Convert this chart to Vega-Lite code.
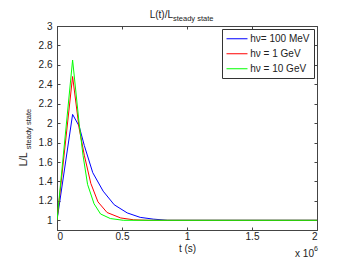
{
  "$schema": "https://vega.github.io/schema/vega-lite/v6.json",
  "width": 260,
  "height": 204,
  "autosize": {"type": "none"},
  "padding": {"left": 57, "top": 26, "right": 37, "bottom": 47},
  "config": {
    "font": "Liberation Sans",
    "view": {"stroke": "#444", "strokeWidth": 1},
    "text": {"font": "Liberation Sans", "color": "#222"}
  },
  "data": {
    "values": [
      {"series": "hν= 100 MeV", "t": 0, "L": 1},
      {"series": "hν= 100 MeV", "t": 120000, "L": 2.09},
      {"series": "hν= 100 MeV", "t": 170000, "L": 1.97},
      {"series": "hν= 100 MeV", "t": 210000, "L": 1.77},
      {"series": "hν= 100 MeV", "t": 275000, "L": 1.49},
      {"series": "hν= 100 MeV", "t": 355000, "L": 1.30},
      {"series": "hν= 100 MeV", "t": 440000, "L": 1.16},
      {"series": "hν= 100 MeV", "t": 540000, "L": 1.076},
      {"series": "hν= 100 MeV", "t": 640000, "L": 1.03},
      {"series": "hν= 100 MeV", "t": 740000, "L": 1.012},
      {"series": "hν= 100 MeV", "t": 850000, "L": 1.0},
      {"series": "hν= 100 MeV", "t": 2000000, "L": 1.0},
      {"series": "hν = 1 GeV", "t": 0, "L": 1},
      {"series": "hν = 1 GeV", "t": 120000, "L": 2.48},
      {"series": "hν = 1 GeV", "t": 170000, "L": 1.95},
      {"series": "hν = 1 GeV", "t": 210000, "L": 1.67},
      {"series": "hν = 1 GeV", "t": 260000, "L": 1.38},
      {"series": "hν = 1 GeV", "t": 315000, "L": 1.19},
      {"series": "hν = 1 GeV", "t": 385000, "L": 1.08},
      {"series": "hν = 1 GeV", "t": 490000, "L": 1.024},
      {"series": "hν = 1 GeV", "t": 590000, "L": 1.005},
      {"series": "hν = 1 GeV", "t": 700000, "L": 1.0},
      {"series": "hν = 1 GeV", "t": 2000000, "L": 1.0},
      {"series": "hν = 10 GeV", "t": 0, "L": 1},
      {"series": "hν = 10 GeV", "t": 120000, "L": 2.65},
      {"series": "hν = 10 GeV", "t": 170000, "L": 2.0},
      {"series": "hν = 10 GeV", "t": 200000, "L": 1.67},
      {"series": "hν = 10 GeV", "t": 235000, "L": 1.37},
      {"series": "hν = 10 GeV", "t": 285000, "L": 1.17},
      {"series": "hν = 10 GeV", "t": 335000, "L": 1.065},
      {"series": "hν = 10 GeV", "t": 410000, "L": 1.018},
      {"series": "hν = 10 GeV", "t": 510000, "L": 1.0},
      {"series": "hν = 10 GeV", "t": 2000000, "L": 1.0}
    ]
  },
  "layer": [
    {
      "mark": {"type": "line", "strokeWidth": 1, "clip": true},
      "encoding": {
        "x": {
          "field": "t", "type": "quantitative",
          "scale": {"domain": [0, 2000000], "nice": false, "zero": false},
          "axis": {
            "values": [0, 500000, 1000000, 1500000, 2000000],
            "labelExpr": "datum.value / 1000000",
            "title": "t (s)",
            "grid": false,
            "domainColor": "#444", "tickColor": "#444",
            "tickSize": -3, "labelPadding": 4,
            "labelFontSize": 10, "labelColor": "#222",
            "titleFontSize": 10, "titleFontWeight": "normal", "titleColor": "#222",
            "titlePadding": 2
          }
        },
        "y": {
          "field": "L", "type": "quantitative",
          "scale": {"domain": [0.9, 3], "nice": false, "zero": false},
          "axis": {
            "values": [1, 1.2, 1.4, 1.6, 1.8, 2, 2.2, 2.4, 2.6, 2.8, 3],
            "format": "~g",
            "title": null,
            "grid": false,
            "domainColor": "#444", "tickColor": "#444",
            "tickSize": -3, "labelPadding": 8,
            "labelFontSize": 10, "labelColor": "#222"
          }
        },
        "color": {
          "field": "series", "type": "nominal",
          "scale": {
            "domain": ["hν= 100 MeV", "hν = 1 GeV", "hν = 10 GeV"],
            "range": ["#0000ff", "#ff0000", "#00ff00"]
          },
          "legend": {
            "title": null,
            "orient": "top-right",
            "offset": 3,
            "padding": 3.75,
            "strokeColor": "#333",
            "fillColor": "#ffffff",
            "symbolType": "M-2,0H2",
            "symbolSize": 110,
            "symbolOffset": 5.25,
            "symbolStrokeWidth": 1,
            "labelFontSize": 10,
            "labelColor": "#222",
            "labelOffset": 7.25,
            "rowPadding": 4
          }
        }
      }
    },
    {
      "mark": {"type": "line", "opacity": 0},
      "encoding": {
        "x": {
          "field": "t", "type": "quantitative",
          "axis": {"orient": "top", "values": [0, 500000, 1000000, 1500000, 2000000], "labels": false, "title": null, "domain": false, "grid": false, "tickSize": -3, "tickColor": "#444"}
        },
        "y": {
          "field": "L", "type": "quantitative",
          "axis": {"orient": "right", "values": [1, 1.2, 1.4, 1.6, 1.8, 2, 2.2, 2.4, 2.6, 2.8, 3], "labels": false, "title": null, "domain": false, "grid": false, "tickSize": -3, "tickColor": "#444"}
        },
        "detail": {"field": "series"}
      }
    },
    {
      "data": {"values": [{"label": "x 10"}]},
      "mark": {"type": "text", "align": "right", "baseline": "alphabetic", "fontSize": 10, "dx": -3, "dy": 27},
      "encoding": {
        "x": {"datum": 2000000, "axis": null},
        "y": {"datum": 0.9, "axis": null},
        "text": {"field": "label"}
      }
    },
    {
      "data": {"values": [{"label": "6"}]},
      "mark": {"type": "text", "align": "left", "baseline": "alphabetic", "fontSize": 7, "dx": -3, "dy": 21},
      "encoding": {
        "x": {"datum": 2000000, "axis": null},
        "y": {"datum": 0.9, "axis": null},
        "text": {"field": "label"}
      }
    },
    {
      "data": {"values": [{"label": "L(t)/L"}]},
      "mark": {"type": "text", "align": "right", "baseline": "alphabetic", "fontSize": 10, "dx": -14, "dy": -8},
      "encoding": {
        "x": {"datum": 1000000, "axis": null},
        "y": {"datum": 3, "axis": null},
        "text": {"field": "label"}
      }
    },
    {
      "data": {"values": [{"label": "steady state"}]},
      "mark": {"type": "text", "align": "left", "baseline": "alphabetic", "fontSize": 7.5, "dx": -14, "dy": -5},
      "encoding": {
        "x": {"datum": 1000000, "axis": null},
        "y": {"datum": 3, "axis": null},
        "text": {"field": "label"}
      }
    },
    {
      "data": {"values": [{"label": "L/L"}]},
      "mark": {"type": "text", "align": "left", "baseline": "alphabetic", "fontSize": 10, "angle": 270, "dx": 54, "dy": -30},
      "encoding": {
        "x": {"datum": 0, "axis": null},
        "y": {"datum": 1, "axis": null},
        "text": {"field": "label"}
      }
    },
    {
      "data": {"values": [{"label": "steady state"}]},
      "mark": {"type": "text", "align": "left", "baseline": "alphabetic", "fontSize": 7.5, "angle": 270, "dx": 71, "dy": -26},
      "encoding": {
        "x": {"datum": 0, "axis": null},
        "y": {"datum": 1, "axis": null},
        "text": {"field": "label"}
      }
    }
  ],
  "resolve": {"axis": {"x": "independent", "y": "independent"}}
}
